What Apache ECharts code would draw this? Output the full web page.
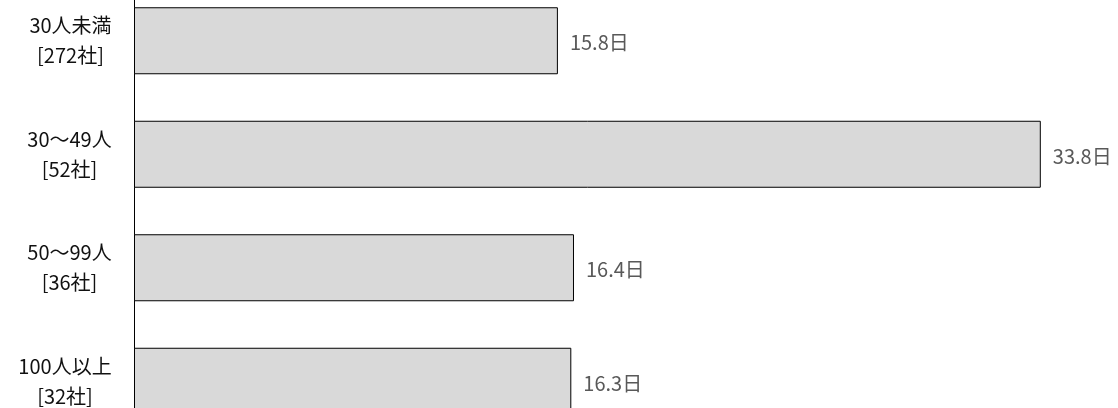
<!DOCTYPE html>
<html>
<head>
<meta charset="utf-8">
<title>規模別 平均日数</title>
<script src="https://cdn.jsdelivr.net/npm/echarts@6/dist/echarts.min.js"></script>
<style>
  html, body { margin: 0; padding: 0; background: #fff; }
  #main { width: 1118px; height: 408px; }
</style>
</head>
<body>
<div id="main"></div>
<script>
  // 従業員規模 / 回答社数 / 平均日数
  var categories = ['30人未満', '30～49人', '50～99人', '100人以上'];
  var companies = [272, 52, 36, 32];
  var days = [15.8, 33.8, 16.4, 16.3];

  var FONT = '"Noto Sans CJK JP", "Noto Sans", sans-serif';
  var SIZE = 20;

  // 2行ラベルをブロック内で中央揃えにするため、長い方の行幅を測る
  var ctx = document.createElement('canvas').getContext('2d');
  ctx.font = SIZE + 'px ' + FONT;
  function blockWidth(a, b) {
    return Math.ceil(Math.max(ctx.measureText(a).width, ctx.measureText(b).width));
  }

  var rich = {};
  categories.forEach(function (c, i) {
    var w = blockWidth(c, '[' + companies[i] + '社]');
    rich['w' + w] = { width: w, align: 'center', fontFamily: FONT, fontSize: SIZE, lineHeight: 30, color: '#111' };
  });

  var chart = echarts.init(document.getElementById('main'));
  var option = {
    animation: false,
    grid: { left: 134, right: 45, top: -16, bottom: -30, outerBoundsMode: 'none', containLabel: false },
    xAxis: {
      type: 'value',
      min: 0,
      max: 35,
      show: false
    },
    yAxis: {
      type: 'category',
      inverse: true,
      data: categories,
      axisLine: { show: true, lineStyle: { color: '#000', width: 1 } },
      axisTick: { show: false },
      axisLabel: {
        margin: 22,
        align: 'right',
        fontFamily: FONT,
        fontSize: SIZE,
        color: '#111',
        lineHeight: 30,
        formatter: function (val, idx) {
          var l2 = '[' + companies[idx] + '社]';
          var w = blockWidth(val, l2);
          return '{w' + w + '|' + val + '}\n{w' + w + '|' + l2 + '}';
        },
        rich: rich
      }
    },
    series: [{
      type: 'bar',
      data: days,
      barWidth: 67,
      itemStyle: { color: '#d9d9d9', borderColor: '#000', borderWidth: 1 },
      label: {
        show: true,
        position: 'right',
        distance: 12,
        offset: [0, 2],
        fontFamily: FONT,
        fontSize: SIZE,
        color: '#595959',
        formatter: function (p) { return p.value.toFixed(1) + '日'; }
      }
    }]
  };
  chart.setOption(option);
</script>
</body>
</html>
